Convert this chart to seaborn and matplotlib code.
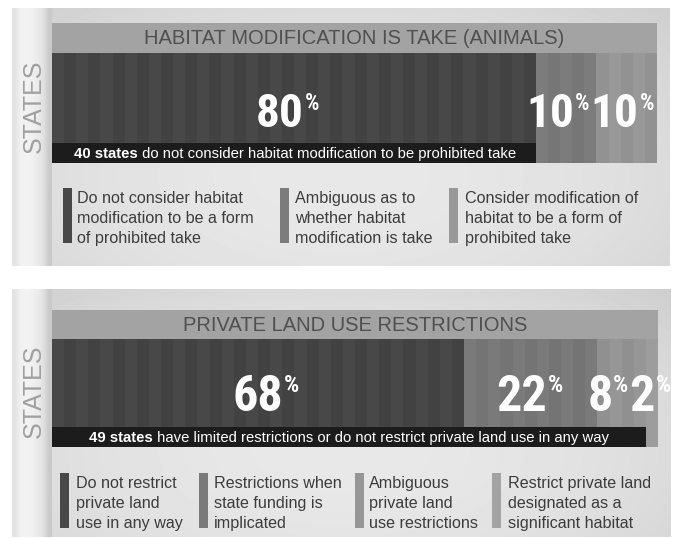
import numpy as np
import pandas as pd
import matplotlib
matplotlib.use("Agg")
import matplotlib.pyplot as plt
import matplotlib.font_manager as fm
import seaborn as sns
from matplotlib.patches import Rectangle

sns.set_theme(style="white")
plt.rcParams["font.family"] = ["Liberation Sans", "DejaVu Sans"]

N_STATES = 50

# panel 1 data
habitat_title = "HABITAT MODIFICATION IS TAKE (ANIMALS)"
habitat_counts = [40, 5, 5]
habitat_pcts = [80, 10, 10]
habitat_labels = ["Do not consider habitat\nmodification to be a form\nof prohibited take",
                  "Ambiguous as to\nwhether habitat\nmodification is take",
                  "Consider modification of\nhabitat to be a form of\nprohibited take"]
habitat_note_states = 40
habitat_note_bold = "40 states"
habitat_note = " do not consider habitat modification to be prohibited take"

# panel 2 data
land_title = "PRIVATE LAND USE RESTRICTIONS"
land_counts = [34, 11, 4, 1]
land_pcts = [68, 22, 8, 2]
land_labels = ["Do not restrict\nprivate land\nuse in any way",
               "Restrictions when\nstate funding is\nimplicated",
               "Ambiguous\nprivate land\nuse restrictions",
               "Restrict private land\ndesignated as a\nsignificant habitat"]
land_note_states = 49
land_note_bold = "49 states"
land_note = " have limited restrictions or do not restrict private land use in any way"


def condensed_bold():
    # look for an upright narrow / condensed bold face among the installed fonts
    best = None
    for f in fm.fontManager.ttflist:
        st = str(f.stretch).lower()
        nm = f.name.lower()
        fn = f.fname.lower()
        if str(f.style).lower() != "normal" or "italic" in fn or "oblique" in fn:
            continue
        narrow = ("condensed" in st or "narrow" in nm or "condensed" in nm) and "expanded" not in st
        w = f.weight if isinstance(f.weight, int) else (700 if "bold" in str(f.weight) else 400)
        if narrow and w >= 600 and "ultra" not in st and "extra" not in st:
            if best is None or ("liberation" in nm or "roboto" in nm):
                best = f
    if best is not None:
        return fm.FontProperties(fname=best.fname), 1.0
    return fm.FontProperties(family="DejaVu Sans", weight="bold"), 0.75


num_font, num_scale = condensed_bold()

W, H = 675, 538
fig = plt.figure(figsize=(6.75, 5.38), dpi=100)
fig.patch.set_facecolor("white")

bg = fig.add_axes([0, 0, 1, 1])
bg.set_xlim(0, W)
bg.set_ylim(H, 0)
bg.set_axis_off()
bg.set_zorder(-1)

top = fig.add_axes([0, 0, 1, 1])
top.set_xlim(0, W)
top.set_ylim(H, 0)
top.set_axis_off()
top.patch.set_alpha(0)
top.set_zorder(5)


def px_axes(x0, y0, x1, y1):
    return fig.add_axes([x0 / W, 1 - y1 / H, (x1 - x0) / W, (y1 - y0) / H])


def gray(v):
    return (v / 255, v / 255, v / 255)


def panel(box, title_y, bar_y, counts, pcts, title, labels, note_states, note_bold, note,
          base_shades, legend_y, swatch_x, text_x, nudges, num_size, note_x):
    x0, y0, x1, y1 = box
    # panel background with soft vignette
    yy, xx = np.mgrid[-1:1:80j, -1:1:200j]
    shade = 0.91 - 0.05 * (xx ** 2) - 0.03 * ((yy - 0.3) ** 2)
    bg.imshow(shade, cmap="gray", vmin=0, vmax=1, extent=(x0, x1, y1, y0),
              aspect="auto", zorder=0, interpolation="bilinear")
    # left "STATES" strip
    strip = np.tile(np.array([[0.89, 0.94, 0.95, 0.94, 0.92, 0.88, 0.79]]), (2, 1))
    bg.imshow(strip, cmap="gray", vmin=0, vmax=1, extent=(x0, 52, y1, y0),
              aspect="auto", zorder=1, interpolation="bilinear")
    bg.text(34, (bar_y[0] + bar_y[1]) / 2 - 2, "STATES", rotation=90, ha="center", va="center",
            fontsize=18, color=gray(160), zorder=3)
    # title band
    bx0, bx1 = 52, x1 - 13
    bg.add_patch(Rectangle((bx0, title_y[0]), bx1 - bx0, title_y[1] - title_y[0],
                           facecolor=gray(163), edgecolor="none", zorder=2))
    bg.text((bx0 + bx1) / 2, (title_y[0] + title_y[1]) / 2 + 1, title, ha="center", va="center",
            fontsize=14.5, color=gray(80), zorder=3)

    # striped bar: one stripe per state
    cats = np.repeat(np.arange(len(counts)), counts)
    df = pd.DataFrame({"state": np.arange(N_STATES), "cat": cats, "h": 1.0})
    df["key"] = df["cat"].astype(str) + "_" + (df["state"] % 2).astype(str)
    palette = {}
    for i, b in enumerate(base_shades):
        palette[f"{i}_0"] = gray(b)
        palette[f"{i}_1"] = gray(b - 6)
    ax = px_axes(bx0, bar_y[0], bx1, bar_y[1])
    sns.barplot(data=df, x="state", y="h", hue="key", palette=palette, native_scale=True,
                width=1, dodge=False, errorbar=None, saturation=1, linewidth=0,
                legend=False, ax=ax)
    ax.set_xlim(-0.5, N_STATES - 0.5)
    ax.set_ylim(0, 1)
    ax.set_axis_off()

    # dark note band
    band_h = 20 / (bar_y[1] - bar_y[0])
    ax.add_patch(Rectangle((-0.5, 0), note_states, band_h, facecolor=gray(28),
                           edgecolor="none", zorder=5))
    t1 = top.text(note_x, bar_y[1] - 5, note_bold, fontsize=10.7, fontweight="bold",
                  color="white", va="baseline", zorder=6)
    top.annotate(note, xy=(1, 0), xycoords=t1, va="bottom", ha="left", fontsize=10.7,
                 color="white", zorder=6)

    # percentage labels
    size = num_size * num_scale
    starts = np.cumsum([0] + counts[:-1])
    for s, c, p, nd in zip(starts, counts, pcts, nudges):
        cx = s + c / 2 - 0.5
        ax.annotate(str(p), xy=(cx, 0), xytext=(nd * 0.72, 36 * 0.72), textcoords="offset points",
                    ha="right", va="baseline", fontproperties=num_font, fontsize=size,
                    color="white", zorder=7)
        ax.annotate("%", xy=(cx, 0), xytext=(nd * 0.72 + 0.5, (36 + size) * 0.72 + 1),
                    textcoords="offset points", ha="left", va="top", fontproperties=num_font,
                    fontsize=size * 0.48, color="white", zorder=7)

    # legend
    for sx, tx, b, lab in zip(swatch_x, text_x, base_shades, labels):
        bg.add_patch(Rectangle((sx, legend_y), 9, 55, facecolor=gray(b), edgecolor="none", zorder=3))
        bg.text(tx, legend_y + 3, lab, ha="left", va="top", fontsize=11.6, color=gray(60),
                linespacing=1.4, zorder=3)


panel((12, 8, 670, 266), (23, 53), (53, 163), habitat_counts, habitat_pcts, habitat_title,
      habitat_labels, habitat_note_states, habitat_note_bold, habitat_note,
      [72, 124, 152], 188, [63, 280, 449], [77, 295, 465], [10, 8, 12], 34, 74)

panel((12, 289, 671, 537), (310, 339), (339, 447), land_counts, land_pcts, land_title,
      land_labels, land_note_states, land_note_bold, land_note,
      [72, 122, 150, 163], 473, [60, 199, 355, 492], [76, 214, 369, 508], [25, 16, -9, 3], 36, 89)

fig.savefig("out.png", dpi=100, facecolor="white")
